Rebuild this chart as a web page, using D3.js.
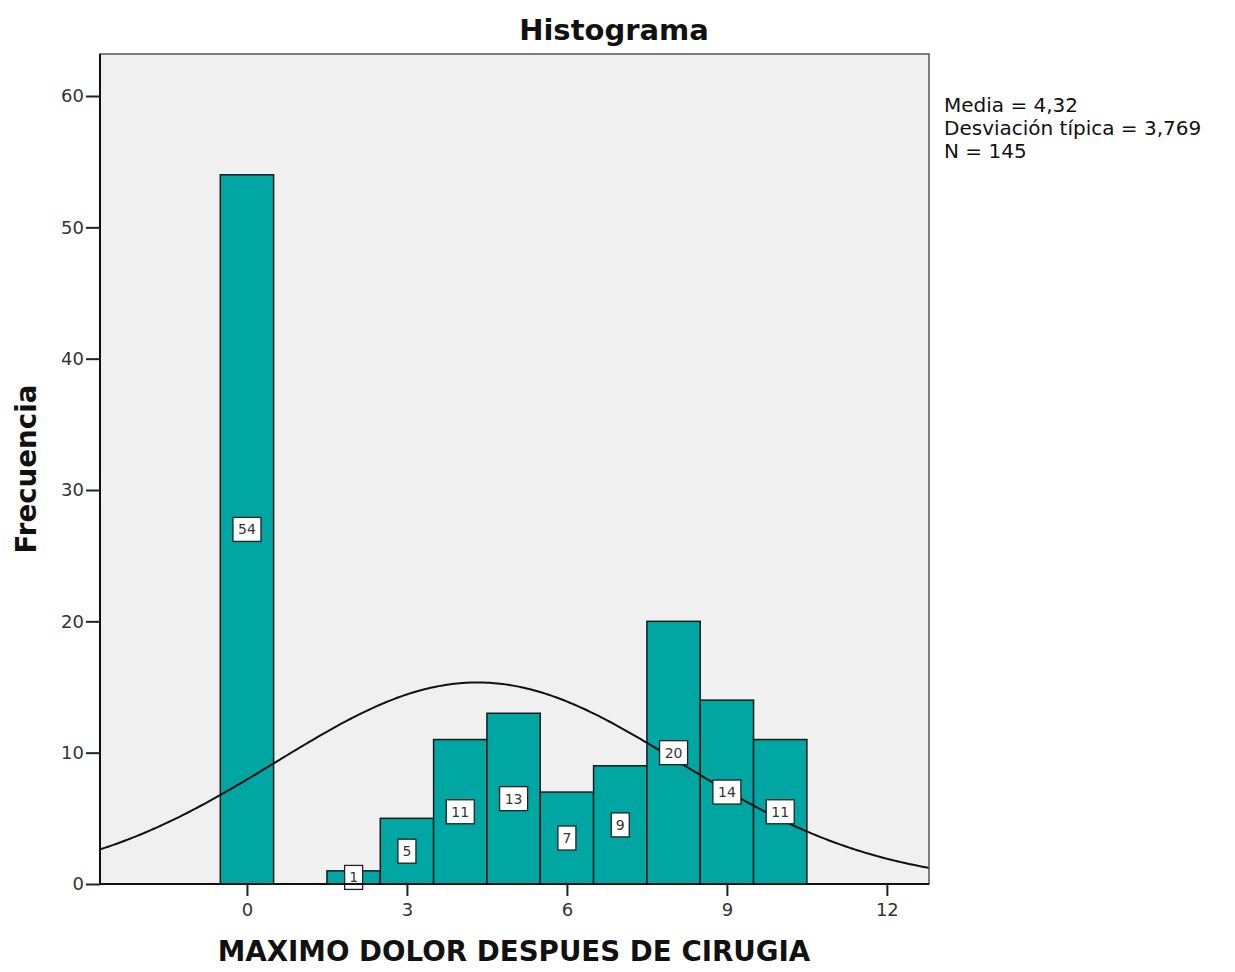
<!DOCTYPE html>
<html>
<head>
<meta charset="utf-8">
<script src="https://cdn.jsdelivr.net/npm/d3@7"></script>
<style>
body { margin: 0; background: #fff; }
text { font-family: "DejaVu Sans", sans-serif; }
</style>
</head>
<body>
<div id="viz"></div>
<script>
var values = [0, 2, 3, 4, 5, 6, 7, 8, 9, 10];
var counts = [54, 1, 5, 11, 13, 7, 9, 20, 14, 11];
var xTicks = [0, 3, 6, 9, 12];
var yTicks = [0, 10, 20, 30, 40, 50, 60];
var stats = ["Media = 4,32", "Desviación típica = 3,769", "N = 145"];
var mean = 4.32, sd = 3.769, n = 145;

var svg = d3.select("#viz")
    .append("svg")
    .attr("width", 1235)
    .attr("height", 972);

var pLeft = 100, pRight = 929, pTop = 54, pBottom = 884;

var x = d3.scaleLinear().domain([-2.756, 12.79]).range([pLeft, pRight]);
var y = d3.scaleLinear().domain([0, 60]).range([pBottom, 96]);

svg.append("rect")
    .attr("x", pLeft).attr("y", pTop)
    .attr("width", pRight - pLeft).attr("height", pBottom - pTop)
    .style("fill", "#f0f0f0");

var g = svg.append("g");

g.selectAll("rect.bar")
    .data(values)
    .enter().append("rect")
    .attr("class", "bar")
    .attr("x", function(d) { return x(d - 0.5); })
    .attr("width", function(d) { return x(d + 0.5) - x(d - 0.5); })
    .attr("y", function(d, i) { return y(counts[i]); })
    .attr("height", function(d, i) { return y(0) - y(counts[i]); })
    .style("fill", "#00a6a1")
    .style("stroke", "#1a1a1a")
    .style("stroke-width", 1.5);

// normal curve
var pts = d3.range(-2.756, 12.8, 0.05).map(function(v) {
    var dens = n / (sd * Math.sqrt(2 * Math.PI)) * Math.exp(-0.5 * Math.pow((v - mean) / sd, 2));
    return [v, dens];
});
var line = d3.line()
    .x(function(d) { return x(d[0]); })
    .y(function(d) { return y(d[1]); })
    .curve(d3.curveBasis);
g.append("path")
    .datum(pts)
    .attr("d", line)
    .style("fill", "none")
    .style("stroke", "#111")
    .style("stroke-width", 2);

// bar labels
var lab = g.selectAll("g.lab")
    .data(values)
    .enter().append("g")
    .attr("class", "lab")
    .attr("transform", function(d, i) {
        return "translate(" + x(d) + "," + y(counts[i] / 2) + ")";
    });
lab.append("rect")
    .attr("x", function(d, i) { return String(counts[i]).length > 1 ? -14 : -9; })
    .attr("width", function(d, i) { return String(counts[i]).length > 1 ? 28 : 18; })
    .attr("y", -12).attr("height", 24)
    .style("fill", "#fff")
    .style("stroke", "#222")
    .style("stroke-width", 1.3);
lab.append("text")
    .attr("text-anchor", "middle")
    .attr("dy", "0.35em")
    .style("font-size", "14px")
    .style("fill", "#333")
    .text(function(d, i) { return counts[i]; });

// frame
svg.append("rect")
    .attr("x", pLeft).attr("y", pTop)
    .attr("width", pRight - pLeft).attr("height", pBottom - pTop)
    .style("fill", "none")
    .style("stroke", "#555")
    .style("stroke-width", 1.5);
svg.append("line")
    .attr("x1", pLeft).attr("x2", pLeft).attr("y1", pTop).attr("y2", pBottom)
    .style("stroke", "#111").style("stroke-width", 2);
svg.append("line")
    .attr("x1", pLeft).attr("x2", pRight).attr("y1", pBottom).attr("y2", pBottom)
    .style("stroke", "#111").style("stroke-width", 2);

// axes
var yAxis = d3.axisLeft(y).tickValues(yTicks).tickSize(14).tickPadding(2);
var ya = svg.append("g").attr("transform", "translate(" + pLeft + ",0)").call(yAxis);
var xAxis = d3.axisBottom(x).tickValues(xTicks).tickSize(12).tickPadding(7);
var xa = svg.append("g").attr("transform", "translate(0," + pBottom + ")").call(xAxis);
[ya, xa].forEach(function(a) {
    a.select(".domain").remove();
    a.selectAll("line").style("stroke", "#222").style("stroke-width", 2);
    a.selectAll("text").style("font-size", "18px").style("fill", "#333")
        .style("font-family", "DejaVu Sans, sans-serif");
});

// titles
svg.append("text")
    .attr("x", 614).attr("y", 40)
    .attr("text-anchor", "middle")
    .style("font-size", "29px").style("font-weight", "bold").style("fill", "#111")
    .text("Histograma");
svg.append("text")
    .attr("x", 514).attr("y", 961)
    .attr("text-anchor", "middle")
    .style("font-size", "27.7px").style("font-weight", "bold").style("fill", "#111")
    .text("MAXIMO DOLOR DESPUES DE CIRUGIA");
svg.append("text")
    .attr("transform", "translate(36,469) rotate(-90)")
    .attr("text-anchor", "middle")
    .style("font-size", "27.7px").style("font-weight", "bold").style("fill", "#111")
    .text("Frecuencia");

svg.selectAll("text.stat")
    .data(stats)
    .enter().append("text")
    .attr("class", "stat")
    .attr("x", 944)
    .attr("y", function(d, i) { return 112 + i * 23; })
    .style("font-size", "20px").style("fill", "#111")
    .text(function(d) { return d; });
</script>
</body>
</html>
